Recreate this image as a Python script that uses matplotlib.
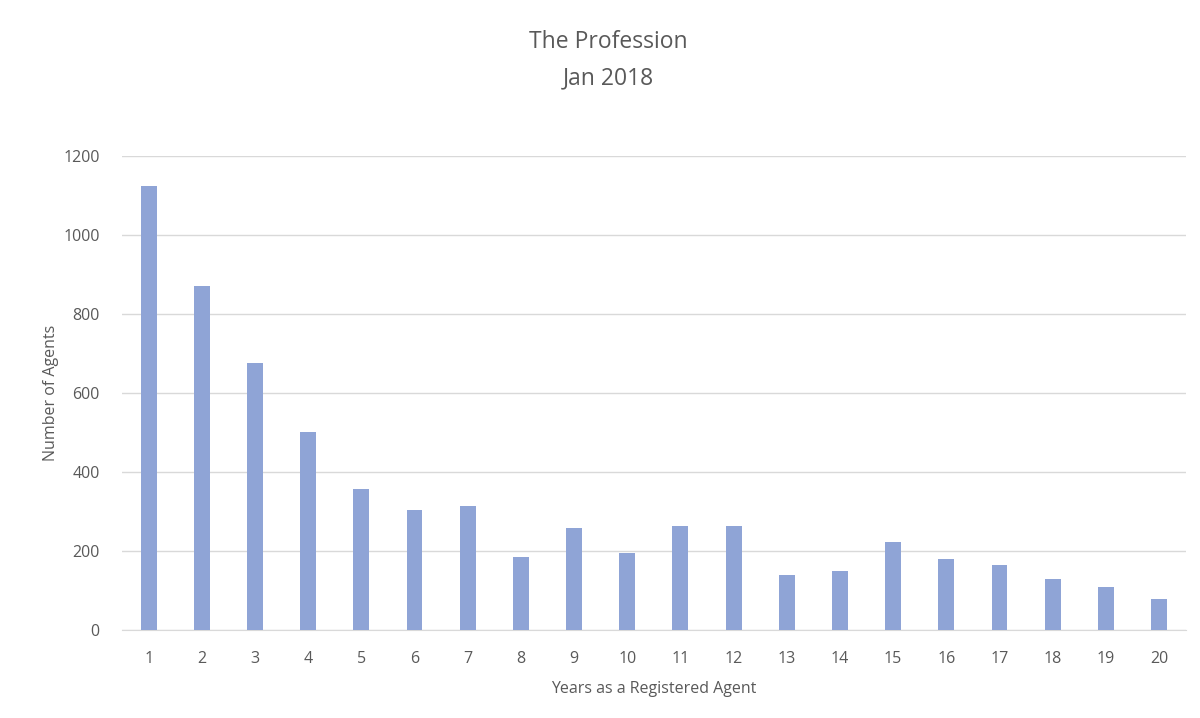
import numpy as np
import matplotlib.pyplot as plt

plt.rcParams['font.family'] = ['Open Sans', 'DejaVu Sans']

# ==========================[Data]=============================
years = list(range(1, 21))
agents = [1125, 871, 676, 501, 356, 304, 314, 186, 258, 196,
          262, 262, 140, 150, 224, 179, 165, 130, 110, 78]

bar_color = '#8FA4D6'
text_color = '#595959'
grid_color = '#D9D9D9'

# ==========================[Plot]=============================
fig = plt.figure(figsize=(12, 7.18), dpi=100)
ax = fig.add_axes([0.1017, 0.1226, 0.8863, 0.6601])

x = np.arange(len(years))
ax.bar(x, agents, width=0.3, color=bar_color, zorder=3)

ax.set_xlim(-0.5, len(years) - 0.5)
ax.set_ylim(0, 1200)
ax.set_yticks(np.arange(0, 1201, 200))
ax.set_xticks(x)
ax.set_xticklabels([str(y) for y in years])

ax.grid(axis='y', color=grid_color, linewidth=1, zorder=0)
for side in ['top', 'right', 'left']:
    ax.spines[side].set_visible(False)
ax.spines['bottom'].set_color(grid_color)
ax.tick_params(axis='both', length=0, labelsize=11.5, colors=text_color)
ax.tick_params(axis='x', pad=15)
ax.tick_params(axis='y', pad=16)

ax.set_xlabel('Years as a Registered Agent', fontsize=11.5, color=text_color, labelpad=10)
ax.set_ylabel('Number of Agents', fontsize=11.5, color=text_color, labelpad=3)

fig.text(0.507, 0.941, 'The Profession', ha='center', va='center',
         fontsize=16.5, color=text_color)
fig.text(0.507, 0.891, 'Jan 2018', ha='center', va='center',
         fontsize=16.5, color=text_color)

plt.savefig('out.png', dpi=100)
